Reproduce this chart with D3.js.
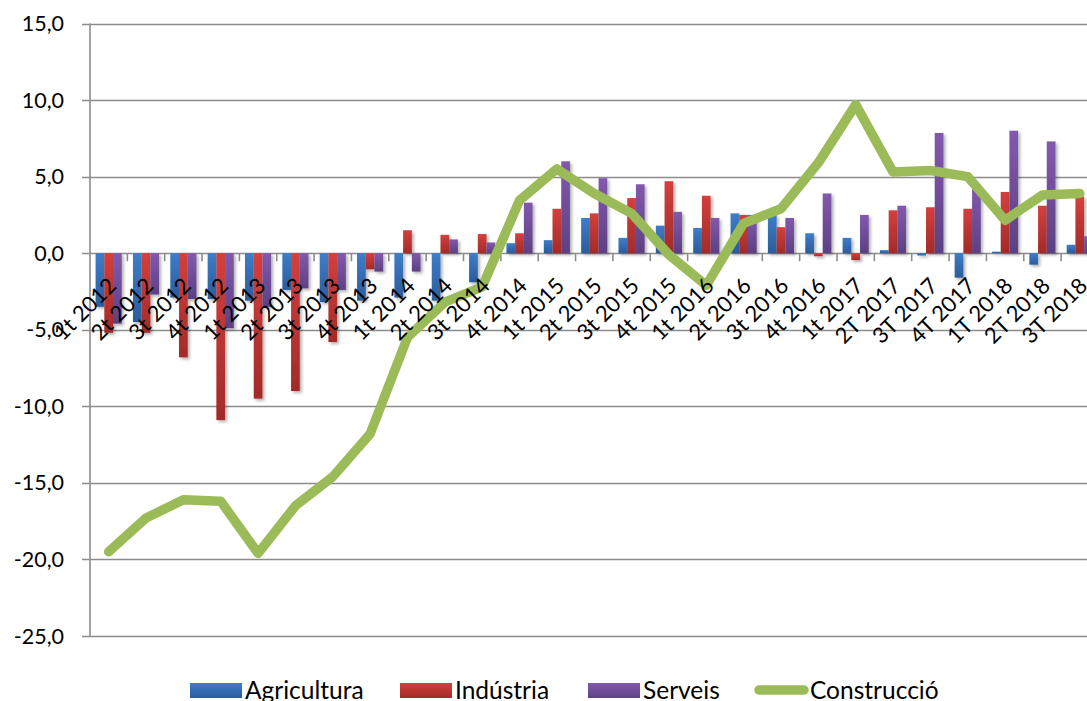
<!DOCTYPE html>
<html>
<head>
<meta charset="utf-8">
<script src="https://cdn.jsdelivr.net/npm/d3@7"></script>
<style>
  html, body { margin: 0; padding: 0; background: #fff; }
  svg { display: block; font-family: Lato, "Noto Sans", sans-serif; }
</style>
</head>
<body>
<svg id="chart"></svg>
<script>
// trimestres
const categories = ["1t 2012", "2t 2012", "3t 2012", "4t 2012", "1t 2013", "2t 2013", "3t 2013", "4t 2013",
  "1t 2014", "2t 2014", "3t 2014", "4t 2014", "1t 2015", "2t 2015", "3t 2015", "4t 2015",
  "1t 2016", "2t 2016", "3t 2016", "4t 2016", "1t 2017", "2T 2017", "3T 2017", "4T 2017",
  "1T 2018", "2T 2018", "3T 2018"];

const agricultura = [-3.5, -4.5, -2.9, -3.0, -3.1, -2.4, -3.2, -3.1, -2.9, -3.1, -1.9, 0.65, 0.85, 2.3, 1.0, 1.8,
  1.65, 2.6, 2.5, 1.3, 1.0, 0.2, -0.15, -1.6, 0.1, -0.75, 0.55];
const industria = [-5.2, -5.2, -6.8, -10.9, -9.5, -9.0, -5.8, -1.05, 1.5, 1.2, 1.25, 1.3, 2.9, 2.6, 3.6, 4.7,
  3.75, 2.5, 1.7, -0.2, -0.45, 2.8, 3.0, 2.9, 4.0, 3.1, 3.7];
const serveis = [-4.6, -2.7, -3.0, -4.9, -3.5, -2.3, -2.4, -1.2, -1.2, 0.9, 0.7, 3.3, 6.0, 4.9, 4.5, 2.7,
  2.3, 2.5, 2.3, 3.9, 2.5, 3.1, 7.85, 4.2, 8.0, 7.3, 1.1];
const construccio = [-19.5, -17.3, -16.1, -16.2, -19.6, -16.5, -14.6, -11.8, -5.5, -3.2, -2.2, 3.45, 5.5, 3.9, 2.6, -0.1,
  -2.1, 1.95, 2.9, 5.9, 9.7, 5.3, 5.4, 5.0, 2.15, 3.8, 3.9];

const yTicks = [-25, -20, -15, -10, -5, 0, 5, 10, 15];

const barSeries = [
  { name: "Agricultura", values: agricultura, top: "#3d7dca", bottom: "#2b5c9b" },
  { name: "Indústria", values: industria, top: "#d3403d", bottom: "#a22b29" },
  { name: "Serveis", values: serveis, top: "#8259ad", bottom: "#5d4083" }
];
const lineColor = "#9bbb59";

const width = 1087;
const height = 701;
const marginLeft = 90;
const step = 37.35;
const plotTop = 23.5;
const plotBottom = 636;

const svg = d3.select("#chart")
  .attr("width", width)
  .attr("height", height);

const defs = svg.append("defs");
barSeries.forEach((s, i) => {
  let g = defs.append("linearGradient")
    .attr("id", "grad" + i)
    .attr("x1", 0).attr("y1", 0).attr("x2", 0).attr("y2", 1);
  g.append("stop").attr("offset", "0%").attr("stop-color", s.top);
  g.append("stop").attr("offset", "100%").attr("stop-color", s.bottom);
});
let shadow = defs.append("filter").attr("id", "shadow")
  .attr("x", "-30%").attr("y", "-10%").attr("width", "160%").attr("height", "130%");
shadow.append("feDropShadow")
  .attr("dx", 2).attr("dy", 2).attr("stdDeviation", 1.5)
  .attr("flood-color", "#000").attr("flood-opacity", 0.3);

// шкалы
const x0 = d3.scaleBand()
  .domain(categories)
  .range([marginLeft, marginLeft + categories.length * step])
  .paddingInner(0.3)
  .paddingOuter(0.15);

const x1 = d3.scaleBand()
  .domain(barSeries.map(s => s.name))
  .range([0, x0.bandwidth()]);

const y = d3.scaleLinear()
  .domain([-25, 15])
  .range([plotBottom, plotTop]);

const fmt = v => d3.format(".1f")(v).replace(".", ",").replace("−", "-");

// сетка
svg.append("g")
  .selectAll("line")
  .data(yTicks)
  .enter()
  .append("line")
  .attr("x1", marginLeft - 8)
  .attr("x2", width)
  .attr("y1", d => Math.round(y(d)) + 0.5)
  .attr("y2", d => Math.round(y(d)) + 0.5)
  .attr("stroke", "#8c8c8c")
  .attr("stroke-width", 1.6);

// ось Y
svg.append("line")
  .attr("x1", marginLeft).attr("x2", marginLeft)
  .attr("y1", y(15)).attr("y2", y(-25))
  .attr("stroke", "#8c8c8c")
  .attr("stroke-width", 1.6);

svg.append("g")
  .selectAll("text")
  .data(yTicks)
  .enter()
  .append("text")
  .attr("x", 64)
  .attr("y", d => y(d) + 7.5)
  .attr("text-anchor", "end")
  .style("font-size", "21.5px")
  .style("fill", "#000")
  .text(fmt);

// столбцы
barSeries.forEach((s, i) => {
  svg.append("g")
    .attr("filter", "url(#shadow)")
    .selectAll("rect")
    .data(categories.map((c, k) => ({ cat: c, v: s.values[k] })))
    .enter()
    .append("rect")
    .attr("x", d => x0(d.cat) + x1(s.name))
    .attr("y", d => Math.min(y(d.v), y(0)))
    .attr("width", x1.bandwidth())
    .attr("height", d => Math.abs(y(d.v) - y(0)))
    .attr("fill", "url(#grad" + i + ")");
});

// метки оси X
const tickPos = categories.slice(1).map(c => x0(c) - x0.step() * x0.paddingInner() / 2);
svg.append("g")
  .selectAll("line")
  .data(tickPos)
  .enter()
  .append("line")
  .attr("x1", d => d).attr("x2", d => d)
  .attr("y1", y(0)).attr("y2", y(0) + 8)
  .attr("stroke", "#8c8c8c")
  .attr("stroke-width", 1.6);

// линия
const line = d3.line()
  .x((d, i) => x0(categories[i]) + x0.bandwidth() / 2)
  .y(d => y(d));

svg.append("path")
  .datum(construccio)
  .attr("d", line)
  .attr("fill", "none")
  .attr("stroke", lineColor)
  .attr("stroke-width", 9.5)
  .attr("stroke-linejoin", "round")
  .attr("stroke-linecap", "round");

svg.append("g")
  .selectAll("text")
  .data(categories)
  .enter()
  .append("text")
  .attr("transform", d => `translate(${x0(d) + x0.bandwidth() / 2 + 9}, ${y(0) + 34}) rotate(-45)`)
  .attr("text-anchor", "end")
  .style("font-size", "22px")
  .style("fill", "#000")
  .text(d => d);

// легенда
const legend = [
  { name: "Agricultura", x: 190, type: "bar", idx: 0 },
  { name: "Indústria", x: 400, type: "bar", idx: 1 },
  { name: "Serveis", x: 588, type: "bar", idx: 2 },
  { name: "Construcció", x: 755, type: "line" }
];
let lg = svg.append("g");
legend.forEach(l => {
  if (l.type === "bar") {
    lg.append("rect")
      .attr("x", l.x).attr("y", 683)
      .attr("width", 52).attr("height", 15)
      .attr("fill", "url(#grad" + l.idx + ")");
  } else {
    lg.append("line")
      .attr("x1", l.x + 4).attr("x2", l.x + 49)
      .attr("y1", 690).attr("y2", 690)
      .attr("stroke", lineColor)
      .attr("stroke-width", 9.5)
      .attr("stroke-linecap", "round");
  }
  lg.append("text")
    .attr("x", l.x + 55)
    .attr("y", 699)
    .style("font-size", "24.5px")
    .style("fill", "#000")
    .text(l.name);
});
</script>
</body>
</html>
